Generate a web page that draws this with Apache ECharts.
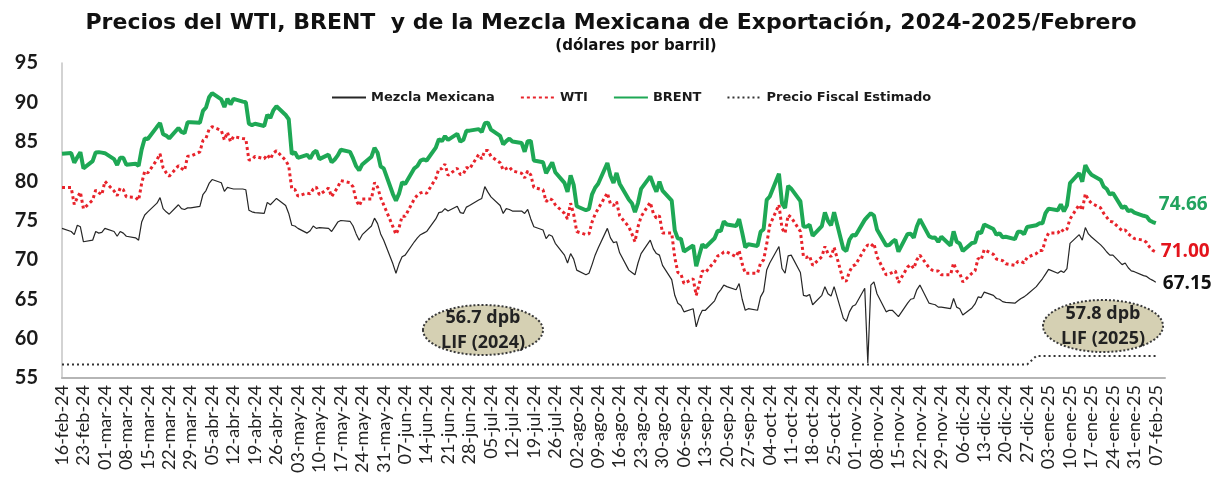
<!DOCTYPE html>
<html><head><meta charset="utf-8">
<script src="https://cdn.jsdelivr.net/npm/echarts@6/dist/echarts.min.js"></script>
<style>html,body{margin:0;padding:0;background:#fff}#c{width:1222px;height:483px}</style>
</head><body><div id="c"></div>
<script>
// ---------- DATA ----------
const startDate = '2024-02-16';
const endDate = '2025-02-07';
const tickLabels = ['16-feb-24','23-feb-24','01-mar-24','08-mar-24','15-mar-24','22-mar-24','29-mar-24','05-abr-24','12-abr-24','19-abr-24','26-abr-24','03-may-24','10-may-24','17-may-24','24-may-24','31-may-24','07-jun-24','14-jun-24','21-jun-24','28-jun-24','05-jul-24','12-jul-24','19-jul-24','26-jul-24','02-ago-24','09-ago-24','16-ago-24','23-ago-24','30-ago-24','06-sep-24','13-sep-24','20-sep-24','27-sep-24','04-oct-24','11-oct-24','18-oct-24','25-oct-24','01-nov-24','08-nov-24','15-nov-24','22-nov-24','29-nov-24','06-dic-24','13-dic-24','20-dic-24','27-dic-24','03-ene-25','10-ene-25','17-ene-25','24-ene-25','31-ene-25','07-feb-25'];

const brent = [
83.47,83.56,82.34,83.03,83.67,81.62,82.53,83.65,83.68,83.62,
83.55,82.80,82.04,82.96,82.96,82.08,82.21,81.92,84.03,85.42,
85.34,86.89,87.38,85.95,85.78,85.43,86.75,86.25,86.09,87.48,
87.48,87.42,88.92,89.35,90.65,91.17,90.38,89.42,90.48,89.74,
90.45,90.10,90.02,87.29,87.11,87.29,87.00,88.42,88.02,89.01,
89.50,88.40,87.86,83.44,83.67,82.96,83.33,82.88,83.58,83.88,
82.79,83.36,82.38,82.75,83.27,83.98,83.71,82.88,81.90,81.36,
82.12,83.10,84.22,83.60,81.86,81.62,78.36,77.52,78.41,79.87,
79.62,81.63,81.92,82.60,82.75,82.62,84.25,85.33,85.07,85.71,
85.24,86.01,85.01,85.25,86.39,86.41,86.60,86.24,87.34,87.43,
86.54,85.75,84.66,85.08,85.40,85.03,84.85,83.73,85.08,85.11,
82.63,82.40,81.01,81.71,82.37,81.13,79.78,78.63,80.72,79.52,
76.81,76.30,76.48,78.33,79.16,79.66,82.30,80.69,79.76,81.04,
79.68,77.66,77.20,76.05,77.22,79.02,80.60,79.55,78.65,79.94,
78.80,77.52,73.75,72.70,72.69,71.06,71.84,69.19,70.61,71.97,
71.61,72.75,73.70,73.65,74.88,74.49,74.29,75.17,73.46,71.60,
71.98,71.77,73.56,73.90,77.62,78.05,80.93,77.18,76.58,79.40,
79.04,77.46,74.25,74.22,74.45,73.06,74.29,76.04,74.96,74.38,
76.05,71.42,71.12,72.55,73.16,73.10,75.08,75.53,75.92,75.63,
73.87,71.83,71.89,72.28,72.56,71.04,73.30,73.31,72.81,74.23,
75.17,73.01,72.81,72.83,72.28,72.94,71.83,73.62,72.31,72.09,
71.12,72.14,72.19,73.52,73.41,74.49,73.91,73.19,73.39,72.88,
72.94,72.63,73.58,73.58,73.26,74.17,74.39,74.64,74.64,75.93,
76.51,76.30,77.05,76.16,76.92,79.76,81.01,79.92,82.03,81.29,
80.80,80.15,79.29,79.00,78.29,78.50,76.60,76.80,76.20,76.30,
76.00,75.60,75.50,75.00,74.80,74.66];

const wti = [
79.19,79.19,77.04,77.91,78.61,76.49,77.58,78.87,78.54,78.26,
79.97,78.74,78.15,79.13,78.93,78.01,77.93,77.56,79.72,81.26,
81.04,82.72,83.47,81.68,81.07,80.63,81.95,81.62,81.35,83.17,
83.17,83.71,85.15,85.43,86.59,86.91,86.43,85.23,86.21,85.02,
85.66,85.41,85.36,82.69,82.73,83.14,82.85,83.36,82.81,83.57,
83.85,82.63,81.93,79.00,78.95,78.11,78.48,78.38,78.99,79.26,
78.26,79.12,78.02,78.63,79.23,80.06,79.80,79.26,77.57,76.87,
77.72,77.72,79.83,79.23,77.91,76.99,74.22,73.25,74.07,75.55,
75.53,77.74,78.23,78.50,78.62,78.45,80.33,81.57,81.57,82.17,
80.73,81.63,80.83,80.90,81.74,81.54,83.38,82.81,83.88,83.88,
83.16,82.33,81.41,81.60,81.80,81.30,81.00,80.40,81.30,80.80,
79.20,78.90,77.40,77.80,77.60,77.00,75.90,75.20,77.20,75.80,
73.60,73.20,73.30,74.80,75.80,76.50,78.50,77.10,76.90,77.40,
75.60,74.20,73.30,72.30,74.20,75.50,77.30,75.90,75.30,75.60,
73.40,73.40,70.30,68.40,68.20,67.00,67.60,65.50,67.00,68.60,
68.40,69.80,70.50,70.60,71.00,71.00,70.40,71.20,69.50,68.30,
68.30,68.30,69.60,70.00,72.00,74.40,77.00,74.00,73.40,75.70,
75.40,73.60,70.40,70.30,70.50,69.30,70.40,71.70,70.80,70.40,
71.60,67.40,67.30,68.50,69.20,69.40,71.40,71.90,71.70,72.10,
70.40,68.10,68.20,68.40,68.60,67.10,69.10,69.40,68.90,70.00,
70.60,69.00,68.70,68.60,68.60,68.10,68.10,69.60,68.60,68.30,
67.20,68.30,68.60,70.20,70.00,71.30,70.70,70.10,70.00,69.90,
69.50,69.30,69.80,69.80,69.60,70.30,70.80,71.20,71.20,72.60,
73.40,73.40,73.90,73.60,73.90,75.20,77.00,76.30,78.40,77.60,
77.20,76.60,75.90,75.40,74.90,74.80,73.70,73.80,73.30,73.00,
72.70,72.50,72.20,71.60,71.20,71.00];

const mezcla = [
74.0,73.6,73.2,74.4,74.2,72.3,72.5,73.6,73.4,73.5,
74.0,73.6,73.0,73.6,73.4,73.0,72.8,72.5,74.8,75.7,
76.1,77.2,77.9,76.5,76.1,75.8,77.0,76.5,76.4,76.6,
76.6,76.8,78.3,78.8,79.7,80.2,79.8,78.7,79.2,79.1,
79.0,79.0,78.9,76.3,76.1,76.0,75.9,77.3,77.0,77.4,
77.8,76.9,75.9,74.4,74.3,74.0,73.4,73.7,74.3,74.0,
74.1,74.0,73.6,74.2,74.8,75.0,74.9,74.3,73.3,72.5,
73.2,74.3,75.3,74.6,73.3,72.5,69.5,68.3,69.5,70.4,
70.6,72.3,72.8,73.2,73.4,73.6,75.2,76.0,76.1,76.5,
76.2,76.8,76.0,75.9,76.7,76.9,77.6,77.8,79.3,78.6,
78.0,76.9,75.9,76.5,76.4,76.2,76.2,75.9,76.4,75.2,
74.2,73.8,72.7,73.2,73.0,72.1,70.6,69.6,70.8,70.1,
68.7,68.1,68.3,69.4,70.6,71.5,74.0,72.8,72.2,72.3,
70.9,68.7,68.4,68.1,69.6,70.8,72.5,71.4,70.8,70.6,
69.3,67.5,65.5,64.5,64.2,63.4,63.8,61.5,62.8,63.6,
63.6,64.8,65.7,66.2,66.8,66.6,66.2,67.0,65.0,63.6,
63.8,63.6,65.3,66.0,68.7,69.6,71.7,68.9,68.3,70.5,
70.6,68.4,65.5,65.4,65.6,64.3,65.5,66.6,65.7,65.4,
66.6,62.6,62.2,63.4,64.1,64.3,66.4,56.9,66.8,67.2,
65.7,63.4,63.6,63.6,63.2,62.8,64.5,65.0,65.1,66.2,
66.8,64.5,64.4,64.3,64.0,64.0,63.8,65.1,64.0,63.8,
63.0,63.9,64.4,65.3,65.2,65.9,65.5,65.1,65.0,64.7,
64.6,64.5,64.8,65.1,65.3,65.6,66.6,67.1,67.6,68.2,
68.8,68.3,68.6,68.4,68.9,72.1,73.2,72.5,74.1,73.3,
72.9,71.9,71.5,71.0,70.6,70.6,69.4,69.6,69.0,68.6,
68.5,68.0,67.9,67.6,67.4,67.15];

const fiscalPrices = [56.7, 57.8];          // LIF 2024, LIF 2025
const fiscalChangeDate = '2024-12-30';
const endValueLabels = {brent: '74.66', wti: '71.00', mezcla: '67.15'};

// ---------- helpers ----------
const DAY = 86400000;
const t0 = Date.parse(startDate + 'T00:00:00Z');
const t1 = Date.parse(endDate + 'T00:00:00Z');
const tFis = Date.parse(fiscalChangeDate + 'T00:00:00Z');
const dayOffsets = [];
for (let t = t0; t <= t1; t += DAY) {
  const wd = new Date(t).getUTCDay();
  if (wd !== 0 && wd !== 6) dayOffsets.push(Math.round((t - t0) / DAY));
}
const pairs = arr => dayOffsets.map((d, i) => [d, arr[i]]);
const fiscal = dayOffsets.map(d => [d, (t0 + d * DAY) >= tFis ? fiscalPrices[1] : fiscalPrices[0]]);

const TF = '"DejaVu Sans"';
const chart = echarts.init(document.getElementById('c'), null, {renderer: 'canvas'});
chart.setOption({
  animation: false,
  backgroundColor: '#ffffff',
  grid: {left: 62, right: 57, top: 63, bottom: 105, containLabel: false},
  legend: {
    left: 326, top: 86, itemWidth: 34, itemHeight: 14, itemGap: 25, selectedMode: false,
    itemStyle: {opacity: 0},
    textStyle: {fontFamily: 'DejaVu Sans', fontWeight: 'bold', fontSize: 13, color: '#1a1a1a'},
    data: ['Mezcla Mexicana', 'WTI', 'BRENT', 'Precio Fiscal Estimado']
  },
  xAxis: {
    type: 'value', min: 0, max: 360, interval: 7,
    axisLine: {show: true, lineStyle: {color: '#b5b5b5', width: 2}},
    axisTick: {show: false}, splitLine: {show: false},
    axisLabel: {
      rotate: 90, margin: 7, fontFamily: 'Lato', fontSize: 18, color: '#222',
      formatter: v => (v % 7 === 0 && v / 7 < tickLabels.length) ? tickLabels[v / 7] : ''
    }
  },
  yAxis: {
    type: 'value', min: 55, max: 95, interval: 5,
    axisLine: {show: true, lineStyle: {color: '#c4c4c4', width: 1.5}},
    axisTick: {show: false}, splitLine: {show: false},
    axisLabel: {margin: 24, fontFamily: 'Lato', fontWeight: 'bold', fontSize: 20, color: '#1a1a1a'}
  },
  series: [
    {name: 'Mezcla Mexicana', type: 'line', data: pairs(mezcla), symbol: 'none', z: 4,
     lineStyle: {color: '#262626', width: 1.2}, itemStyle: {color: '#262626'},
     endLabel: {show: true, formatter: endValueLabels.mezcla, distance: 7, offset: [0, 1],
       fontFamily: 'Open Sans', fontWeight: 'bold', fontSize: 19, color: '#111'}},
    {name: 'WTI', type: 'line', data: pairs(wti), symbol: 'none', z: 3,
     lineStyle: {color: '#e8232b', width: 3, type: [3, 3]}, itemStyle: {color: '#e8232b'},
     endLabel: {show: true, formatter: endValueLabels.wti, distance: 5,
       fontFamily: 'Open Sans', fontWeight: 'bold', fontSize: 19, color: '#e3141c'}},
    {name: 'BRENT', type: 'line', data: pairs(brent), symbol: 'none', z: 2,
     lineStyle: {color: '#1ea855', width: 4}, itemStyle: {color: '#1ea855'},
     endLabel: {show: true, formatter: endValueLabels.brent, distance: 3, offset: [0, -19],
       fontFamily: 'Open Sans', fontWeight: 'bold', fontSize: 19, color: '#21a35e'}},
    {name: 'Precio Fiscal Estimado', type: 'line', data: fiscal, symbol: 'none', z: 1,
     lineStyle: {color: '#333333', width: 2, type: [2, 3]}, itemStyle: {color: '#333333'}}
  ],
  graphic: [
    {type: 'text', x: 611, y: 23, style: {text: 'Precios del WTI, BRENT  y de la Mezcla Mexicana de Exportación, 2024-2025/Febrero',
      fill: '#111', font: 'bold 22px ' + TF, align: 'center', verticalAlign: 'middle'}},
    {type: 'text', x: 636, y: 46, style: {text: '(dólares por barril)',
      fill: '#111', font: 'bold 15px ' + TF, align: 'center', verticalAlign: 'middle'}},
    {type: 'ellipse', shape: {cx: 483, cy: 330, rx: 60, ry: 25}, z: 10,
      style: {fill: '#d5d0b3', stroke: '#3a3a3a', lineWidth: 2, lineDash: [2, 2]}},
    {type: 'text', x: 483, y: 318, z: 11, style: {text: '56.7 dpb', fill: '#222', font: 'bold 18px "Open Sans"', align: 'center', verticalAlign: 'middle'}},
    {type: 'text', x: 483, y: 343, z: 11, style: {text: 'LIF (2024)', fill: '#222', font: 'bold 18px "Open Sans"', align: 'center', verticalAlign: 'middle'}},
    {type: 'ellipse', shape: {cx: 1103, cy: 326, rx: 60, ry: 26}, z: 10,
      style: {fill: '#d5d0b3', stroke: '#3a3a3a', lineWidth: 2, lineDash: [2, 2]}},
    {type: 'text', x: 1103, y: 314, z: 11, style: {text: '57.8 dpb', fill: '#222', font: 'bold 18px "Open Sans"', align: 'center', verticalAlign: 'middle'}},
    {type: 'text', x: 1103, y: 339, z: 11, style: {text: 'LIF (2025)', fill: '#222', font: 'bold 18px "Open Sans"', align: 'center', verticalAlign: 'middle'}}
  ]
});
</script>
</body></html>
